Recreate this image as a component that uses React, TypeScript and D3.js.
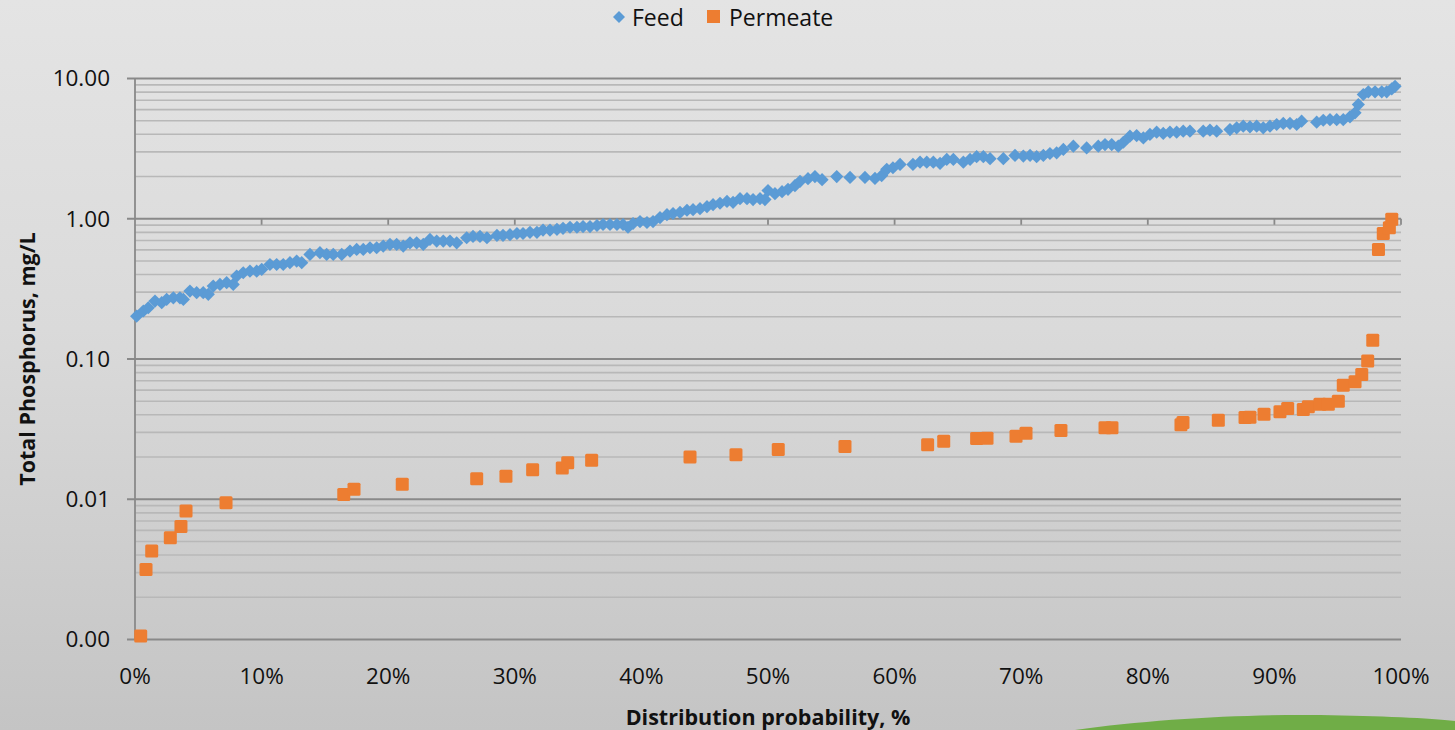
import React, { useRef, useEffect } from "react";
import * as d3 from "d3";

// Feed: [distribution probability %, total P mg/L]
const feedPoints: [number, number][] = [
  [0.13, 0.202], [0.66, 0.22], [1.05, 0.232], [1.58, 0.259], [2.11, 0.252],
  [2.5, 0.266], [3.03, 0.273], [3.55, 0.273], [3.82, 0.266], [4.34, 0.305],
  [4.87, 0.297], [5.39, 0.297], [5.79, 0.289], [6.18, 0.331], [6.71, 0.34],
  [7.24, 0.35], [7.76, 0.34], [8.03, 0.39], [8.55, 0.412], [9.08, 0.423],
  [9.61, 0.423], [10.01, 0.435], [10.66, 0.472], [11.19, 0.472], [11.71, 0.472],
  [12.24, 0.486], [12.77, 0.499], [13.17, 0.486], [13.82, 0.557], [14.61, 0.573],
  [15.14, 0.557], [15.66, 0.557], [16.33, 0.557], [16.98, 0.588], [17.51, 0.604],
  [18.03, 0.604], [18.56, 0.621], [19.09, 0.621], [19.61, 0.638], [20.14, 0.656],
  [20.67, 0.656], [21.19, 0.638], [21.72, 0.674], [22.25, 0.674], [22.77, 0.656],
  [23.3, 0.712], [23.83, 0.693], [24.35, 0.693], [24.88, 0.693], [25.41, 0.674],
  [26.2, 0.732], [26.7, 0.748], [27.25, 0.748], [27.8, 0.732], [28.59, 0.76],
  [29.07, 0.76], [29.62, 0.77], [30.17, 0.785], [30.65, 0.785], [31.2, 0.8],
  [31.75, 0.8], [32.23, 0.83], [32.78, 0.83], [33.33, 0.84], [33.81, 0.855],
  [34.36, 0.87], [34.91, 0.87], [35.39, 0.88], [35.94, 0.88], [36.49, 0.895],
  [36.97, 0.91], [37.52, 0.91], [38.07, 0.91], [38.55, 0.91], [38.94, 0.87],
  [39.34, 0.925], [39.89, 0.955], [40.44, 0.94], [40.92, 0.955], [41.47, 1.02],
  [42.02, 1.07], [42.5, 1.09], [43.05, 1.11], [43.6, 1.15], [44.08, 1.16],
  [44.63, 1.18], [45.18, 1.22], [45.66, 1.26], [46.21, 1.29], [46.76, 1.33],
  [47.24, 1.31], [47.79, 1.39], [48.34, 1.39], [48.82, 1.37], [49.37, 1.39],
  [49.76, 1.37], [50.0, 1.59], [50.55, 1.51], [51.11, 1.56], [51.58, 1.62],
  [52.13, 1.72], [52.53, 1.85], [53.16, 1.93], [53.71, 2.0], [54.27, 1.9],
  [55.43, 2.0], [56.48, 1.97], [57.66, 1.97], [58.45, 1.94], [58.98, 2.03],
  [59.38, 2.25], [59.87, 2.31], [60.43, 2.44], [61.45, 2.44], [62.01, 2.53],
  [62.54, 2.53], [63.06, 2.53], [63.59, 2.48], [64.12, 2.65], [64.64, 2.65],
  [65.43, 2.53], [65.96, 2.65], [66.48, 2.77], [67.01, 2.77], [67.54, 2.68],
  [68.59, 2.68], [69.51, 2.83], [70.17, 2.8], [70.7, 2.83], [71.22, 2.77],
  [71.75, 2.83], [72.27, 2.92], [72.8, 2.95], [73.33, 3.12], [74.12, 3.29],
  [75.17, 3.2], [76.09, 3.29], [76.62, 3.38], [77.15, 3.38], [77.67, 3.29],
  [78.07, 3.51], [78.59, 3.88], [79.12, 3.92], [79.65, 3.77], [80.17, 3.99],
  [80.7, 4.14], [81.22, 4.06], [81.75, 4.14], [82.28, 4.14], [82.8, 4.21],
  [83.33, 4.21], [84.38, 4.21], [84.91, 4.28], [85.44, 4.21], [86.49, 4.32],
  [87.02, 4.45], [87.54, 4.57], [88.07, 4.52], [88.6, 4.57], [89.12, 4.45],
  [89.65, 4.57], [90.18, 4.7], [90.7, 4.78], [91.23, 4.78], [91.76, 4.7],
  [92.15, 4.96], [93.34, 4.88], [93.86, 5.04], [94.39, 5.09], [94.92, 5.09],
  [95.44, 5.09], [95.97, 5.33], [96.37, 5.69], [96.63, 6.52], [97.02, 7.69],
  [97.42, 8.03], [97.95, 8.03], [98.48, 8.03], [98.87, 8.03], [99.27, 8.43],
  [99.53, 8.8],
];

// Permeate: [distribution probability %, total P mg/L]
const permeatePoints: [number, number][] = [
  [0.45, 0.00106], [0.87, 0.00316], [1.32, 0.00427], [2.79, 0.00532], [3.63, 0.00638],
  [4.03, 0.00824], [7.19, 0.00946], [16.49, 0.0108], [17.3, 0.0118], [21.11, 0.0128],
  [26.99, 0.014], [29.3, 0.0146], [31.41, 0.0162], [33.75, 0.0167], [34.18, 0.0182],
  [36.07, 0.019], [43.84, 0.02], [47.47, 0.0208], [50.81, 0.0226], [56.08, 0.0238],
  [62.61, 0.0245], [63.88, 0.0259], [66.48, 0.0271], [67.3, 0.0272], [69.59, 0.0281],
  [70.38, 0.0296], [73.14, 0.0309], [76.62, 0.0323], [77.17, 0.0324], [82.62, 0.034],
  [82.78, 0.0352], [85.57, 0.0366], [87.68, 0.0382], [88.07, 0.0385], [89.18, 0.0404],
  [90.44, 0.042], [91.05, 0.0443], [92.28, 0.0437], [92.68, 0.0457], [93.6, 0.0475],
  [94.26, 0.0475], [95.05, 0.05], [95.44, 0.065], [96.37, 0.0687], [96.9, 0.0775],
  [97.37, 0.0966], [97.77, 0.136], [98.22, 0.604], [98.6, 0.786], [99.08, 0.863],
  [99.27, 0.99],
];

const yMajorTicks = [0.001, 0.01, 0.1, 1, 10];
const xTicks = [0, 10, 20, 30, 40, 50, 60, 70, 80, 90, 100];

const FONT = "'Open Sans', 'Noto Sans', sans-serif";
const FEED_COLOR = "#5b9bd5";
const PERM_COLOR = "#ed7d31";

const App = () => {
  const svgRef = useRef(null);

  useEffect(() => {
    const svg = d3.select(svgRef.current);
    svg.selectAll("*").remove();

    const width = 1455;
    const height = 730;
    const left = 135;
    const right = 1401;
    const top = 78.5;
    const bottom = 639.5;
    svg.attr("width", width).attr("height", height);

    // background gradient
    const defs = svg.append("defs");
    const grad = defs
      .append("linearGradient")
      .attr("id", "bg")
      .attr("x1", 0)
      .attr("y1", 0)
      .attr("x2", 0)
      .attr("y2", 1);
    grad.append("stop").attr("offset", "0%").attr("stop-color", "#e4e4e4");
    grad.append("stop").attr("offset", "45%").attr("stop-color", "#dadada");
    grad.append("stop").attr("offset", "100%").attr("stop-color", "#c4c4c4");
    svg.append("rect").attr("width", width).attr("height", height).attr("fill", "url(#bg)");

    // green swoosh, bottom right
    svg
      .append("path")
      .attr("d", "M1075,730 C1150,719 1250,714 1320,715 C1380,716 1430,718 1455,721 L1455,730 Z")
      .attr("fill", "#70ad47");

    const x = d3.scaleLinear().domain([0, 100]).range([left, right]);
    const y = d3.scaleLog().domain([0.001, 10]).range([bottom, top]);

    // minor gridlines
    const minor: number[] = [];
    yMajorTicks.slice(0, -1).forEach((m) => {
      for (let k = 2; k <= 9; k++) minor.push(m * k);
    });
    svg
      .append("g")
      .selectAll("line")
      .data(minor)
      .enter()
      .append("line")
      .attr("x1", left)
      .attr("x2", right)
      .attr("y1", (d) => y(d))
      .attr("y2", (d) => y(d))
      .attr("stroke", "#b8b8b8")
      .attr("stroke-width", 1.6);

    // major gridlines + y ticks
    svg
      .append("g")
      .selectAll("line")
      .data(yMajorTicks)
      .enter()
      .append("line")
      .attr("x1", left - 8)
      .attr("x2", right)
      .attr("y1", (d) => y(d))
      .attr("y2", (d) => y(d))
      .attr("stroke", "#898989")
      .attr("stroke-width", 1.8);

    // y axis line
    svg
      .append("line")
      .attr("x1", left)
      .attr("x2", left)
      .attr("y1", top)
      .attr("y2", bottom)
      .attr("stroke", "#898989")
      .attr("stroke-width", 1.8);

    // x ticks sit on the axis crossing at 1.0
    svg
      .append("g")
      .selectAll("line")
      .data(xTicks.slice(1))
      .enter()
      .append("line")
      .attr("x1", (d) => x(d))
      .attr("x2", (d) => x(d))
      .attr("y1", y(1))
      .attr("y2", y(1) + 6)
      .attr("stroke", "#898989")
      .attr("stroke-width", 1.8);

    // y tick labels
    svg
      .append("g")
      .selectAll("text")
      .data(yMajorTicks)
      .enter()
      .append("text")
      .attr("x", 110)
      .attr("y", (d) => y(d))
      .attr("dy", "0.35em")
      .attr("text-anchor", "end")
      .style("font-family", FONT)
      .style("font-size", "22.5px")
      .attr("fill", "#111")
      .text((d) => d3.format(".2f")(d));

    // x tick labels
    svg
      .append("g")
      .selectAll("text")
      .data(xTicks)
      .enter()
      .append("text")
      .attr("x", (d) => x(d))
      .attr("y", 676)
      .attr("dy", "0.35em")
      .attr("text-anchor", "middle")
      .style("font-family", FONT)
      .style("font-size", "22.5px")
      .attr("fill", "#111")
      .text((d) => `${d}%`);

    // axis titles
    svg
      .append("text")
      .attr("x", (left + right) / 2)
      .attr("y", 717)
      .attr("dy", "0.35em")
      .attr("text-anchor", "middle")
      .style("font-family", FONT)
      .style("font-size", "21.5px")
      .style("font-weight", "bold")
      .attr("fill", "#111")
      .text("Distribution probability, %");

    svg
      .append("text")
      .attr("transform", `translate(27, ${(top + bottom) / 2}) rotate(-90)`)
      .attr("dy", "0.35em")
      .attr("text-anchor", "middle")
      .style("font-family", FONT)
      .style("font-size", "21.5px")
      .style("font-weight", "bold")
      .attr("fill", "#111")
      .text("Total Phosphorus, mg/L");

    // feed diamonds
    const diamond = (cx: number, cy: number, r: number) =>
      `M${cx},${cy - r}L${cx + r},${cy}L${cx},${cy + r}L${cx - r},${cy}Z`;

    svg
      .append("g")
      .selectAll("path")
      .data(feedPoints)
      .enter()
      .append("path")
      .attr("d", (d) => diamond(x(d[0]), y(d[1]), 6.6))
      .attr("fill", FEED_COLOR);

    // permeate squares
    const s = 13;
    svg
      .append("g")
      .selectAll("rect")
      .data(permeatePoints)
      .enter()
      .append("rect")
      .attr("x", (d) => x(d[0]) - s / 2)
      .attr("y", (d) => y(d[1]) - s / 2)
      .attr("width", s)
      .attr("height", s)
      .attr("rx", 1.5)
      .attr("fill", PERM_COLOR);

    // legend
    const legend = svg.append("g");
    legend.append("path").attr("d", diamond(619, 17, 6)).attr("fill", FEED_COLOR);
    legend
      .append("text")
      .attr("x", 632)
      .attr("y", 18)
      .attr("dy", "0.35em")
      .style("font-family", FONT)
      .style("font-size", "23px")
      .attr("fill", "#111")
      .text("Feed");
    legend
      .append("rect")
      .attr("x", 707)
      .attr("y", 10)
      .attr("width", 13)
      .attr("height", 13)
      .attr("fill", PERM_COLOR);
    legend
      .append("text")
      .attr("x", 729)
      .attr("y", 18)
      .attr("dy", "0.35em")
      .style("font-family", FONT)
      .style("font-size", "23px")
      .attr("fill", "#111")
      .text("Permeate");
  }, []);

  return <svg ref={svgRef} style={{ position: "absolute", left: 0, top: 0 }} />;
};

export default App;
